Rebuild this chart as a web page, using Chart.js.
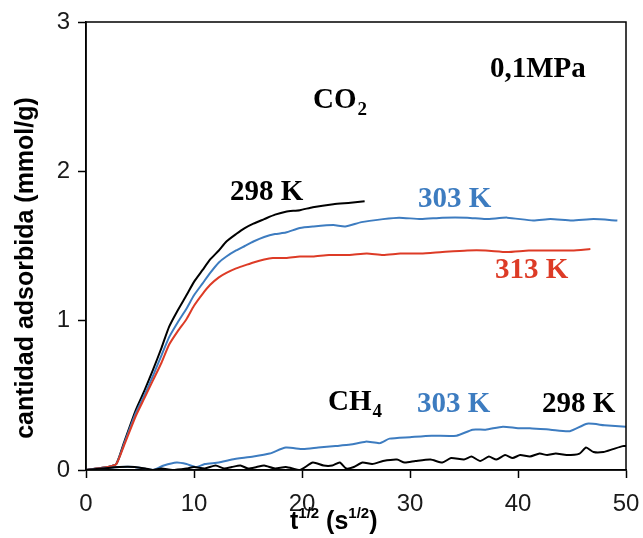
<!DOCTYPE html>
<html>
<head>
<meta charset="utf-8">
<script src="https://cdn.jsdelivr.net/npm/chart.js@4/dist/chart.umd.min.js"></script>
<style>
    body { margin: 0; background: #ffffff; }
    #wrap { width: 643px; height: 538px; }
</style>
</head>
<body>
<div id="wrap"><canvas id="kinChart" width="643" height="538"></canvas></div>
<script>
// CO2, 0,1 MPa
const co2_298_x = [0, 1, 2, 2.8, 3.5, 4.6, 5.4, 6.2, 7, 7.7, 8.5, 9.3, 10, 10.8, 11.5, 12.3, 13, 13.9, 14.7, 15.5, 16.5, 17.5, 18.5, 19.8, 21, 22.9, 24.5, 25.8];
const co2_298_y = [0, 0.01, 0.02, 0.04, 0.18, 0.40, 0.53, 0.67, 0.82, 0.96, 1.07, 1.17, 1.26, 1.34, 1.41, 1.47, 1.53, 1.58, 1.62, 1.65, 1.68, 1.71, 1.73, 1.74, 1.76, 1.78, 1.79, 1.80];

const co2_303_x = [0, 1, 2, 2.8, 3.5, 4.6, 5.4, 6.2, 7, 7.7, 8.5, 9.3, 10, 10.8, 11.5, 12.3, 13, 13.9, 14.7, 15.5, 16.5, 17.5, 18.5, 19.8, 21, 22.9, 24, 25.5, 27.5, 29, 31, 33, 35.3, 37, 39, 41.4, 43, 45, 47, 49.2];
const co2_303_y = [0, 0.01, 0.02, 0.04, 0.17, 0.38, 0.50, 0.63, 0.77, 0.89, 0.99, 1.08, 1.17, 1.25, 1.32, 1.39, 1.43, 1.47, 1.50, 1.53, 1.56, 1.58, 1.59, 1.62, 1.63, 1.64, 1.63, 1.66, 1.68, 1.69, 1.68, 1.69, 1.69, 1.68, 1.69, 1.67, 1.68, 1.67, 1.68, 1.67];

const co2_313_x = [0, 1, 2, 2.8, 3.5, 4.6, 5.4, 6.2, 7, 7.7, 8.5, 9.3, 10, 10.8, 11.5, 12.3, 13, 13.9, 14.7, 15.5, 16.5, 17.3, 18.5, 19.8, 21, 22.5, 24.4, 26, 27.5, 29.1, 31, 33, 35.3, 37, 39, 41, 43, 45, 46.7];
const co2_313_y = [0, 0.01, 0.02, 0.04, 0.16, 0.36, 0.48, 0.60, 0.72, 0.84, 0.93, 1.01, 1.10, 1.18, 1.24, 1.29, 1.32, 1.35, 1.37, 1.39, 1.41, 1.42, 1.42, 1.43, 1.43, 1.44, 1.44, 1.45, 1.44, 1.45, 1.45, 1.46, 1.47, 1.47, 1.46, 1.47, 1.47, 1.47, 1.48];

// CH4
const ch4_303_x = [0, 1.5, 3.1, 4.5, 6.2, 7.2, 8.4, 9.3, 10.2, 11, 12.3, 13.5, 15.5, 17, 18.5, 20.1, 21.5, 23.1, 24.5, 25.9, 27.2, 28.1, 30, 32, 34.3, 35.8, 37, 38.6, 40, 41.1, 43, 44.8, 46.4, 48, 50];
const ch4_303_y = [0, 0.01, 0.02, 0.02, 0, 0.03, 0.05, 0.04, 0.02, 0.04, 0.05, 0.07, 0.09, 0.11, 0.15, 0.14, 0.15, 0.16, 0.17, 0.19, 0.18, 0.21, 0.22, 0.23, 0.23, 0.27, 0.27, 0.29, 0.28, 0.28, 0.27, 0.26, 0.31, 0.30, 0.29];

const ch4_298_x = [0, 1.5, 3.1, 4.5, 5.5, 6.2, 7, 8, 9.3, 10, 11, 12, 12.8, 13.5, 14.3, 15, 15.8, 16.5, 17.5, 18.5, 19.8, 21, 22, 22.8, 23.5, 24.1, 24.8, 25.6, 26.5, 27.5, 28.8, 29.5, 30.5, 31.9, 33, 33.8, 35, 35.7, 36.5, 37.3, 38, 38.8, 39.5, 40.2, 41.1, 42, 42.7, 43.5, 44.5, 45.7, 46.3, 47, 47.9, 48.8, 49.7, 50];
const ch4_298_y = [0, 0.01, 0.02, 0.02, 0.01, 0, 0.01, 0, 0.01, 0.02, 0.01, 0.03, 0.01, 0.02, 0.03, 0.01, 0.02, 0.03, 0.01, 0.02, 0, 0.05, 0.03, 0.03, 0.05, 0.01, 0.02, 0.05, 0.04, 0.06, 0.07, 0.05, 0.06, 0.07, 0.05, 0.08, 0.07, 0.09, 0.06, 0.09, 0.07, 0.10, 0.08, 0.10, 0.09, 0.11, 0.10, 0.11, 0.10, 0.11, 0.15, 0.12, 0.12, 0.14, 0.16, 0.16];

const xTicks = [0, 10, 20, 30, 40, 50];
const yTicks = [0, 1, 2, 3];

// text labels inside the plot: [text, subscript, x, y, color]
const labels = [
    ['0,1MPa', '', 490, 77, '#000000'],
    ['CO', '2', 313, 108, '#000000'],
    ['298 K', '', 230, 200, '#000000'],
    ['303 K', '', 418, 207, '#3d7cc0'],
    ['313 K', '', 495, 278, '#dd3b26'],
    ['CH', '4', 328, 410, '#000000'],
    ['303 K', '', 417, 412, '#3d7cc0'],
    ['298 K', '', 542, 412, '#000000']
];

const BLUE = '#3d7cc0';
const RED = '#dd3b26';
const BLACK = '#000000';

function pts(xs, ys) {
    return xs.map((x, i) => ({ x: x, y: ys[i] }));
}

function series(label, xs, ys, color) {
    return {
        label: label,
        data: pts(xs, ys),
        borderColor: color,
        backgroundColor: color,
        borderWidth: 2,
        pointRadius: 0,
        tension: 0.2,
        fill: false
    };
}

// no extra label padding, the layout padding sets the plot box
function noPad(s) {
    s.paddingTop = 0;
    s.paddingBottom = 0;
    s.paddingLeft = 0;
    s.paddingRight = 0;
}

// frame, titles and in-plot labels
const decorPlugin = {
    id: 'decor',
    afterDraw(chart) {
        const ctx = chart.ctx;
        const a = chart.chartArea;
        ctx.save();
        ctx.strokeStyle = '#000';
        ctx.lineWidth = 1.5;
        ctx.strokeRect(a.left, a.top, a.right - a.left, a.bottom - a.top);

        // in-plot labels
        ctx.textBaseline = 'alphabetic';
        ctx.textAlign = 'left';
        labels.forEach(([txt, sub, x, y, col]) => {
            ctx.fillStyle = col;
            ctx.font = 'bold 29px "Liberation Serif", serif';
            ctx.fillText(txt, x, y);
            if (sub) {
                const w = ctx.measureText(txt).width;
                ctx.font = 'bold 19px "Liberation Serif", serif';
                ctx.fillText(sub, x + w + 1, y + 7);
            }
        });

        // x title: t^(1/2) (s^(1/2))
        ctx.fillStyle = '#000';
        let x = 290;
        const base = 529;
        const parts = [['t', false], ['1/2', true], [' (s', false], ['1/2', true], [')', false]];
        parts.forEach(([t, sup]) => {
            ctx.font = sup ? 'bold 15px "Liberation Sans", Arial, sans-serif' : 'bold 25px "Liberation Sans", Arial, sans-serif';
            ctx.fillText(t, x, sup ? base - 11 : base);
            x += ctx.measureText(t).width;
        });

        // y title
        ctx.translate(26, 268);
        ctx.rotate(-Math.PI / 2);
        ctx.textAlign = 'center';
        ctx.textBaseline = 'middle';
        ctx.font = 'bold 25px "Liberation Sans", Arial, sans-serif';
        ctx.fillText('cantidad adsorbida (mmol/g)', 0, 0);
        ctx.restore();
    }
};

const bgPlugin = {
    id: 'bg',
    beforeDraw(chart) {
        const ctx = chart.ctx;
        ctx.save();
        ctx.fillStyle = '#ffffff';
        ctx.fillRect(0, 0, chart.width, chart.height);
        ctx.restore();
    }
};

const ctx = document.getElementById('kinChart').getContext('2d');
new Chart(ctx, {
    type: 'line',
    data: {
        datasets: [
            series('CH4 298 K', ch4_298_x, ch4_298_y, BLACK),
            series('CH4 303 K', ch4_303_x, ch4_303_y, BLUE),
            series('CO2 313 K', co2_313_x, co2_313_y, RED),
            series('CO2 303 K', co2_303_x, co2_303_y, BLUE),
            series('CO2 298 K', co2_298_x, co2_298_y, BLACK)
        ]
    },
    options: {
        responsive: false,
        animation: false,
        layout: { padding: { top: 22, right: 17, left: 0, bottom: 0 } },
        plugins: {
            legend: { display: false },
            tooltip: { enabled: false }
        },
        scales: {
            x: {
                type: 'linear',
                min: 0,
                max: 50,
                afterBuildTicks: (s) => { s.ticks = xTicks.map(v => ({ value: v })); },
                afterFit: (s) => { s.height = 68; noPad(s); },
                ticks: {
                    color: '#1a1a1a',
                    padding: 12,
                    maxRotation: 0,
                    font: { family: '"Liberation Sans", Arial, sans-serif', size: 24 }
                },
                grid: {
                    drawOnChartArea: false,
                    drawTicks: true,
                    tickLength: 8,
                    tickWidth: 1.5,
                    tickColor: '#000'
                },
                border: { color: '#000', width: 1.5 }
            },
            y: {
                type: 'linear',
                min: 0,
                max: 3,
                afterBuildTicks: (s) => { s.ticks = yTicks.map(v => ({ value: v })); },
                afterFit: (s) => { s.width = 86; noPad(s); },
                ticks: {
                    color: '#1a1a1a',
                    padding: 8,
                    font: { family: '"Liberation Sans", Arial, sans-serif', size: 24 }
                },
                grid: {
                    drawOnChartArea: false,
                    drawTicks: true,
                    tickLength: 8,
                    tickWidth: 1.5,
                    tickColor: '#000'
                },
                border: { color: '#000', width: 1.5 }
            }
        }
    },
    plugins: [bgPlugin, decorPlugin]
});
</script>
</body>
</html>
